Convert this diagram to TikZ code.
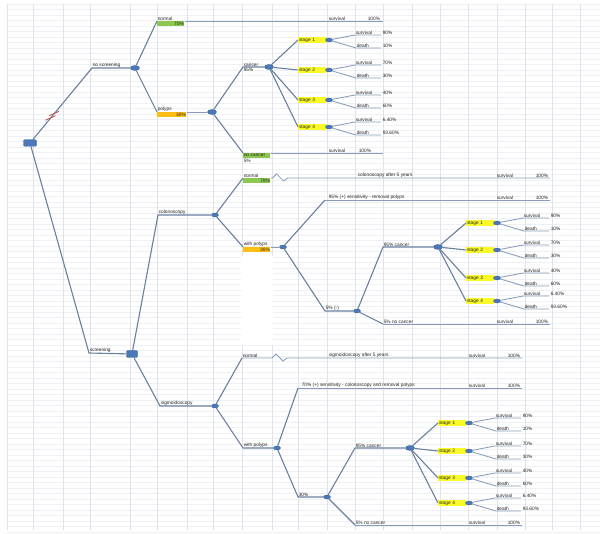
\documentclass[tikz,border=0pt]{standalone}
\usepackage{fontspec}
\newfontfamily\lbfamily{Liberation Sans}
\usetikzlibrary{shapes.geometric,calc}
\newcommand{\lbfont}{\lbfamily\fontsize{4.8}{5.4}\selectfont}
\definecolor{linec}{RGB}{105,128,160}
\definecolor{lineh}{RGB}{135,156,186}
\definecolor{nodeblue}{RGB}{74,120,184}
\definecolor{nodeborder}{RGB}{52,88,140}
\definecolor{stageyellow}{RGB}{250,250,40}
\definecolor{cellgreen}{RGB}{140,200,80}
\definecolor{cellorange}{RGB}{255,190,20}
\definecolor{hashred}{RGB}{190,75,72}
\definecolor{txt}{RGB}{35,35,35}
\definecolor{gridv}{RGB}{224,228,234}
\definecolor{gridh}{RGB}{238,240,243}
\tikzset{
  conn/.style={draw=linec, line width=1.1pt},
  hline/.style={draw=lineh, line width=0.85pt},
  lbl/.style={font=\lbfont, inner sep=0.6pt, text=txt},
  dec/.style={ellipse, fill=nodeblue, draw=nodeborder, line width=0.3pt, minimum width=9pt, minimum height=5pt, inner sep=0pt},
  decsmall/.style={dec, minimum width=7pt, minimum height=4pt},
  rootbox/.style={rectangle, rounded corners=1.2pt, fill=nodeblue, draw=nodeborder, line width=0.3pt, minimum width=13pt, minimum height=6.5pt, inner sep=0pt},
  stagebox/.style={rectangle, fill=stageyellow, minimum height=5.5pt, inner sep=0.8pt, font=\lbfont, text=txt, anchor=west, text width=26pt, align=left},
  cellbox/.style={rectangle, minimum height=5pt, inner sep=0.6pt, font=\lbfont, text=txt, anchor=north west, text width=26pt},
}
% #1 prefix, #2 parent, #3 n, #4 x, #5 y, #6 surv, #7 death
\newcommand{\StageBranch}[7]{%
  \node[stagebox] (#1st#3) at (#4,#5) {stage #3};
  \node[decsmall] (#1sd#3) at ($(#1st#3.east)+(3,0)$) {};
  \draw[conn] (#2) -- (#1st#3.west);
  \coordinate (#1sa#3) at ($(#1sd#3)+(26,-5)$);
  \coordinate (#1sb#3) at ($(#1sd#3)+(52,-5)$);
  \coordinate (#1da#3) at ($(#1sd#3)+(27,8)$);
  \coordinate (#1db#3) at ($(#1sd#3)+(52,8)$);
  \draw[hline] (#1sd#3) -- (#1sa#3) -- (#1sb#3);
  \draw[hline] (#1sd#3) -- (#1da#3) -- (#1db#3);
  \node[lbl, anchor=south west] (#1sl#3) at (#1sa#3) {survival};
  \node[lbl, anchor=south west] (#1dl#3) at (#1da#3) {death};
  \node[lbl, anchor=south west] (#1sp#3) at ($(#1sb#3)+(1,0)$) {#6};
  \node[lbl, anchor=south west] (#1dp#3) at ($(#1db#3)+(1,0)$) {#7};
}
% #1 prefix, #2 parent, #3 x, #4 y1, #5 y2, #6 y3, #7 y4
\newcommand{\StageSet}[7]{%
  \StageBranch{#1}{#2}{1}{#3}{#4}{90\%}{10\%}
  \StageBranch{#1}{#2}{2}{#3}{#5}{70\%}{30\%}
  \StageBranch{#1}{#2}{3}{#3}{#6}{40\%}{60\%}
  \StageBranch{#1}{#2}{4}{#3}{#7}{6.40\%}{93.60\%}
}
\begin{document}
\begin{tikzpicture}[x=1pt,y=-1pt]
\useasboundingbox (0,0) rectangle (606,534);
\fill[white] (0,0) rectangle (606,534);
% spreadsheet grid
\foreach \yy in {4,9.5,...,534} \draw[gridh, line width=0.3pt] (7,\yy) -- (600,\yy);
\foreach \xx in {7,33,63,90,130,157,187,213,242,272,298,327,355,383,412,440,468,497,525,552,580} \draw[gridv, line width=0.4pt] (\xx,4) -- (\xx,530);
\fill[white] (241,256) rectangle (273,345);

% ---------- root ----------
\node[rootbox] (root) at (30,143) {};

% ---------- no screening ----------
\coordinate (nsel) at (92,68);
\node[lbl, anchor=south west] (nslbl) at (nsel) {no screening};
\node[dec] (ns) at (135,68) {};
\draw[conn] (root) -- (nsel) -- (ns);
\coordinate (hc1) at ($(root)!0.33!(nsel)$);
\coordinate (hc2) at ($(root)!0.39!(nsel)$);
\draw[hashred, line width=0.8pt] ($(hc1)+(-5,2)$) -- ($(hc1)+(5,-2.5)$);
\draw[hashred, line width=0.8pt] ($(hc2)+(-5,2)$) -- ($(hc2)+(5,-2.5)$);

% normal
\node[cellbox, fill=cellgreen, align=right] (nsnorm) at (157,21) {70\%};
\node[lbl, anchor=south west] (nsnormlbl) at (nsnorm.north west) {normal};
\draw[conn] (ns) -- (nsnorm.north west);
\coordinate (nsnormend) at (383,21);
\draw[hline] (nsnorm.north east) -- (nsnormend);
\node[lbl, anchor=south west] (nsnormsv) at (328,21) {survival};
\node[lbl, anchor=south west] (nsnormpc) at (367,21) {100\%};

% polyps
\node[cellbox, fill=cellorange, align=right, text width=28pt] (nspol) at (157,112) {30\%};
\node[lbl, anchor=south west] (nspollbl) at (nspol.north west) {polyps};
\draw[conn] (ns) -- (nspol.north west);
\node[dec] (nsp) at (212,112) {};
\draw[hline] (nspol.north east) -- (nsp);

% cancer
\coordinate (nscel) at (243,67);
\node[lbl, anchor=south west] (nsclbl) at (nscel) {cancer};
\node[lbl, anchor=north west] (nscpc) at (nscel) {95\%};
\node[dec] (nsc) at (269,67) {};
\draw[conn] (nsp) -- (nscel) -- (nsc);

% no cancer
\node[cellbox, fill=cellgreen, align=left] (nsnc) at (243,153) {no cancer};
\node[lbl, anchor=north west] (nsncpc) at (nsnc.south west) {5\%};
\draw[conn] (nsp) -- (nsnc.north west);
\coordinate (nsncend) at (383,153);
\draw[hline] (nsnc.north east) -- (nsncend);
\node[lbl, anchor=south west] (nsncsv) at (328,153) {survival};
\node[lbl, anchor=south west] (nsncpcb) at (358,153) {100\%};

\StageSet{a}{nsc}{298}{40}{70}{100}{127}

% ---------- screening ----------
\coordinate (scel) at (89,353);
\node[lbl, anchor=south west] (sclbl) at (scel) {screening};
\node[rootbox, minimum width=11pt, minimum height=7pt] (sc) at (132,354) {};
\draw[conn] (root) -- (scel) -- (sc);

% ===== colonoscopy =====
\coordinate (coel) at (158,215);
\node[lbl, anchor=south west] (colbl) at (coel) {colonoscopy};
\node[decsmall] (co) at (215,215) {};
\draw[conn] (sc) -- (coel) -- (co);

% normal
\node[cellbox, fill=cellgreen, align=right] (conorm) at (243,178) {70\%};
\node[lbl, anchor=south west] (conormlbl) at (conorm.north west) {normal};
\draw[conn] (co) -- (conorm.north west);
\coordinate (conormend) at (550,178);
\draw[hline] (conorm.north east) -- ++(2,0) -- ++(4,-4) -- ++(7,7) -- ++(4,-3) -- (conormend);
\node[lbl, anchor=south west] (conormtx) at (357,178) {colonoscopy after 5 years};
\node[lbl, anchor=south west] (conormsv) at (496,178) {survival};
\node[lbl, anchor=south west] (conormpc) at (535,178) {100\%};

% with polyps
\node[cellbox, fill=cellorange, align=right] (copol) at (243,247) {30\%};
\node[lbl, anchor=south west] (copollbl) at (copol.north west) {with polyps};
\draw[conn] (co) -- (copol.north west);
\node[decsmall] (cop) at (283,247) {};
\draw[hline] (copol.north east) -- (cop);

% sensitivity
\coordinate (coseel) at (325,200);
\coordinate (coseend) at (550,200);
\draw[conn] (cop) -- (coseel);
\draw[hline] (coseel) -- (coseend);
\node[lbl, anchor=south west] (cosetx) at ($(coseel)+(3,0)$) {95\% (+) sensitivity - removal polyps};
\node[lbl, anchor=south west] (cosesv) at (496,200) {survival};
\node[lbl, anchor=south west] (cosepc) at (535,200) {100\%};

% 5% (-)
\coordinate (comiel) at (325,311);
\node[lbl, anchor=south west] (comilbl) at (comiel) {5\% (-)};
\node[decsmall] (comi) at (357,311) {};
\draw[conn] (cop) -- (comiel) -- (comi);

% 95% cancer
\coordinate (cocael) at (383,247);
\node[lbl, anchor=south west] (cocalbl) at (cocael) {95\% cancer};
\node[dec] (coca) at (438,247) {};
\draw[conn] (comi) -- (cocael) -- (coca);

% 5% no cancer
\coordinate (concel) at (383,324);
\coordinate (concend) at (550,324);
\draw[conn] (comi) -- (concel);
\draw[hline] (concel) -- (concend);
\node[lbl, anchor=south west] (conclbl) at (concel) {5\% no cancer};
\node[lbl, anchor=south west] (concsv) at (496,324) {survival};
\node[lbl, anchor=south west] (concpc) at (535,324) {100\%};

\StageSet{b}{coca}{466}{223}{250}{278}{301}

% ===== sigmoidoscopy =====
\coordinate (sgel) at (160,406);
\node[lbl, anchor=south west] (sglbl) at (sgel) {sigmoidoscopy};
\node[decsmall] (sg) at (215,406) {};
\draw[conn] (sc) -- (sgel) -- (sg);

% normal
\coordinate (sgnoel) at (242,358);
\node[lbl, anchor=south west] (sgnolbl) at (sgnoel) {normal};
\coordinate (sgnoend) at (522,358);
\draw[conn] (sg) -- (sgnoel);
\draw[hline] (sgnoel) -- ++(30,0) -- ++(4,-4) -- ++(7,7) -- ++(4,-3) -- (sgnoend);
\node[lbl, anchor=south west] (sgnotx) at (328,358) {sigmoidoscopy after 5 years};
\node[lbl, anchor=south west] (sgnosv) at (468,358) {survival};
\node[lbl, anchor=south west] (sgnopc) at (507,358) {100\%};

% with polyps
\coordinate (sgpoel) at (243,448);
\node[lbl, anchor=south west] (sgpolbl) at (sgpoel) {with polyps};
\node[decsmall] (sgp) at (277,448) {};
\draw[conn] (sg) -- (sgpoel) -- (sgp);

% sensitivity
\coordinate (sgseel) at (298,388);
\coordinate (sgseend) at (522,388);
\draw[conn] (sgp) -- (sgseel);
\draw[hline] (sgseel) -- (sgseend);
\node[lbl, anchor=south west] (sgsetx) at ($(sgseel)+(3,0)$) {70\% (+) sensitivity - colonoscopy and removal polyps};
\node[lbl, anchor=south west] (sgsesv) at (468,388) {survival};
\node[lbl, anchor=south west] (sgsepc) at (507,388) {100\%};

% 30%
\coordinate (sgmiel) at (298,497);
\node[lbl, anchor=south west] (sgmilbl) at (sgmiel) {30\%};
\node[decsmall] (sgmi) at (327,497) {};
\draw[conn] (sgp) -- (sgmiel) -- (sgmi);

% 95% cancer
\coordinate (sgcael) at (355,448);
\node[lbl, anchor=south west] (sgcalbl) at (sgcael) {95\% cancer};
\node[dec] (sgca) at (410,448) {};
\draw[conn] (sgmi) -- (sgcael) -- (sgca);

% 5% no cancer
\coordinate (sgncel) at (355,525);
\coordinate (sgncend) at (522,525);
\draw[conn] (sgmi) -- (sgncel);
\draw[hline] (sgncel) -- (sgncend);
\node[lbl, anchor=south west] (sgnclbl) at (sgncel) {5\% no cancer};
\node[lbl, anchor=south west] (sgncsv) at (468,525) {survival};
\node[lbl, anchor=south west] (sgncpc) at (507,525) {100\%};

\StageSet{c}{sgca}{438}{423}{451}{478}{503}
\end{tikzpicture}
\end{document}
